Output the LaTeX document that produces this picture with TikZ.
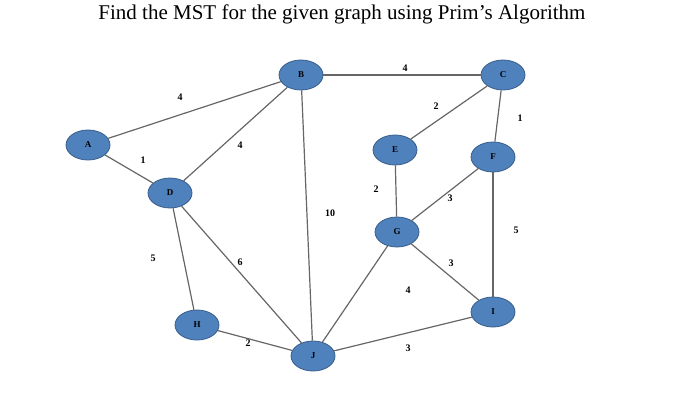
\documentclass[tikz,border=0pt]{standalone}
\usepackage{fontspec}
\setmainfont{Liberation Serif}
\usetikzlibrary{shapes.geometric}
\definecolor{nodeblue}{RGB}{79,129,189}
\definecolor{nodeedge}{RGB}{56,93,138}
\begin{document}
\begin{tikzpicture}[x=1pt,y=-1pt,
  vert/.style={ellipse,fill=nodeblue,draw=nodeedge,line width=0.8pt,minimum width=44pt,minimum height=30pt,inner sep=0pt,font=\bfseries\fontsize{9}{9}\selectfont},
  edge/.style={draw=black!60,line width=1.2pt},
  wt/.style={font=\bfseries\fontsize{10}{10}\selectfont}]
\useasboundingbox (0,0) rectangle (700,409);
\node[font=\fontsize{21}{21}\selectfont] (title) at (342,14) {Find the MST for the given graph using Prim’s Algorithm};
\node[vert] (A) at (88,145) {A};
\node[vert] (B) at (301,75) {B};
\node[vert] (C) at (503,75) {C};
\node[vert] (E) at (395,150) {E};
\node[vert] (F) at (493,157) {F};
\node[vert] (D) at (170,193) {D};
\node[vert] (G) at (397,232) {G};
\node[vert] (H) at (197,325) {H};
\node[vert] (I) at (493,312) {I};
\node[vert] (J) at (313,356) {J};
\draw[edge] (A) -- (B);
\draw[edge] (A) -- (D);
\draw[edge] (D) -- (B);
\draw[edge] (B) -- (C);
\draw[edge] (C) -- (E);
\draw[edge] (C) -- (F);
\draw[edge] (B) -- (J);
\draw[edge] (E) -- (G);
\draw[edge] (F) -- (G);
\draw[edge] (F) -- (I);
\draw[edge] (D) -- (H);
\draw[edge] (D) -- (J);
\draw[edge] (G) -- (I);
\draw[edge] (G) -- (J);
\draw[edge] (H) -- (J);
\draw[edge] (J) -- (I);
\node[wt] (w1) at (180,97) {4};
\node[wt] (w2) at (143,160) {1};
\node[wt] (w3) at (240,145) {4};
\node[wt] (w4) at (405,68) {4};
\node[wt] (w5) at (436,106) {2};
\node[wt] (w6) at (520,118) {1};
\node[wt] (w7) at (330,213) {10};
\node[wt] (w8) at (376,189) {2};
\node[wt] (w9) at (450,198) {3};
\node[wt] (w10) at (516,230) {5};
\node[wt] (w11) at (153,258) {5};
\node[wt] (w12) at (240,262) {6};
\node[wt] (w13) at (451,263) {3};
\node[wt] (w14) at (408,290) {4};
\node[wt] (w15) at (248,343) {2};
\node[wt] (w16) at (408,348) {3};
\end{tikzpicture}
\end{document}
